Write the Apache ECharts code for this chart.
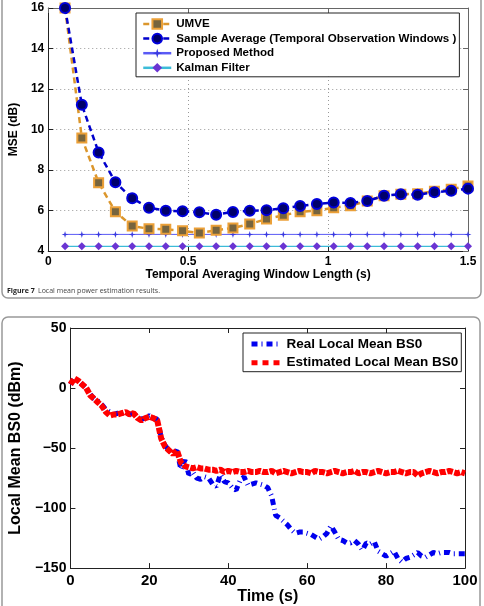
<!DOCTYPE html>
<html>
<head>
<meta charset="utf-8">
<script src="https://cdn.jsdelivr.net/npm/echarts@6/dist/echarts.min.js"></script>
<style>html,body{margin:0;padding:0;background:#fff;}#c{width:484px;height:606px;}</style>
</head>
<body>
<div id="c"></div>
<script>
// ---- Top chart data ----
const windowLength = [0.06,0.12,0.18,0.24,0.30,0.36,0.42,0.48,0.54,0.60,0.66,0.72,0.78,0.84,0.90,0.96,1.02,1.08,1.14,1.20,1.26,1.32,1.38,1.44,1.50];
const umve = [16,9.58,7.37,5.94,5.23,5.10,5.07,5.00,4.89,5.02,5.14,5.33,5.58,5.76,5.94,5.99,6.14,6.24,6.47,6.73,6.80,6.83,6.95,7.05,7.21];
const sampleAverage = [16,11.22,8.87,7.39,6.60,6.14,5.99,5.96,5.91,5.79,5.93,5.99,6.01,6.11,6.22,6.32,6.40,6.37,6.47,6.73,6.80,6.78,6.90,6.98,7.08];
const proposedMethod = [4.82,4.82,4.82,4.82,4.82,4.82,4.82,4.82,4.82,4.82,4.82,4.82,4.82,4.82,4.82,4.82,4.82,4.82,4.82,4.82,4.82,4.82,4.82,4.82,4.82];
const kalmanFilter = [4.23,4.23,4.23,4.23,4.23,4.23,4.23,4.23,4.23,4.23,4.23,4.23,4.23,4.23,4.23,4.23,4.23,4.23,4.23,4.23,4.23,4.23,4.23,4.23,4.23];
const topNames = ['UMVE','Sample Average (Temporal Observation Windows )','Proposed Method','Kalman Filter'];

// ---- Bottom chart data ----
const timeSec = [0,1,2,3,4,5,6,7,8,9,10,11,12,13,14,15,16,17,18,19,20,21,22,23,24,25,26,27,28,29,30,31,32,33,34,35,36,37,38,39,40,41,42,43,44,45,46,47,48,49,50,51,52,53,54,55,56,57,58,59,60,61,62,63,64,65,66,67,68,69,70,71,72,73,74,75,76,77,78,79,80,81,82,83,84,85,86,87,88,89,90,91,92,93,94,95,96,97,98,99,100];
const realLocalMean = [3,8,6,3,0,-5,-9,-11,-14,-18,
  -20,-22,-21,-21,-20,-22,-21,-24,-26,-25,
  -23,-25,-26,-41,-48,-52,-55,-52,-68,-60,
  -72,-70,-75,-76,-74,-75,-80,-82,-72,-78,
  -79,-83,-85,-77,-74,-81,-80,-79,-80,-81,
  -83,-90,-106,-108,-111,-114,-118,-121,-120,-120,
  -121,-122,-124,-126,-124,-121,-115,-120,-126,-127,
  -129,-129,-127,-130,-135,-129,-130,-128,-136,-138,
  -140,-138,-136,-142,-145,-142,-141,-139,-137,-140,
  -141,-139,-137,-138,-137,-137,-137,-138,-138,-138,
  -138];
const estimatedLocalMean = [3,8,6,3,0,-6,-9,-12,-15,-20,
  -23,-22,-22,-21,-20,-22,-21,-25,-27,-25,
  -24,-25,-27,-42,-49,-52,-55,-52,-62,-65,
  -66,-67,-66,-67,-67,-68,-68,-69,-68,-70,
  -69,-70,-69,-70,-70,-69,-70,-70,-69,-70,
  -70,-69,-71,-70,-69,-70,-71,-70,-69,-70,
  -70,-71,-69,-70,-70,-71,-70,-69,-70,-71,
  -70,-70,-69,-71,-70,-70,-71,-70,-69,-70,
  -71,-70,-70,-69,-70,-71,-70,-70,-73,-71,
  -70,-69,-70,-71,-70,-70,-69,-70,-71,-70,
  -71];
const bottomNames = ['Real Local Mean BS0','Estimated Local Mean BS0'];

const FONT = '"Liberation Sans", Arial, sans-serif';
const pair = (xs, ys) => xs.map((x, i) => [x, ys[i]]);
const minus = v => String(v).replace('-', '\u2212');

const chart = echarts.init(document.getElementById('c'), null, {renderer: 'canvas'});

const labelBold = (size, extra) => Object.assign({color:'#000', fontWeight:'bold', fontSize:size, fontFamily:FONT}, extra||{});

const option = {
  animation: false,
  backgroundColor: '#fff',
  textStyle: {fontFamily: FONT},
  grid: [
    {left:39, top:8, width:429, height:243},
    {left:57, top:328, width:408, height:246}
  ],
  xAxis: [
    {gridIndex:0, type:'value', min:0, max:1.5, interval:0.5,
     axisLine:{onZero:false, lineStyle:{color:'#222', width:1}},
     axisTick:{inside:true, length:5, lineStyle:{color:'#222'}},
     axisLabel:labelBold(12, {margin:5}),
     splitLine:{show:true, lineStyle:{type:[1,3], color:'#999'}},
     name:'Temporal Averaging Window Length (s)', nameLocation:'middle', nameGap:16,
     nameTextStyle:labelBold(12)},
    {gridIndex:0, type:'value', position:'top', min:0, max:1.5, interval:0.5,
     axisLine:{onZero:false, lineStyle:{color:'#666', width:1}},
     axisTick:{inside:true, length:5, lineStyle:{color:'#666'}},
     axisLabel:{show:false}, splitLine:{show:false}},
    {gridIndex:1, type:'value', min:0, max:100, interval:20,
     axisLine:{onZero:false, lineStyle:{color:'#222', width:1}},
     axisTick:{inside:true, length:5, lineStyle:{color:'#222'}},
     axisLabel:labelBold(15, {margin:5}),
     splitLine:{show:false},
     name:'Time (s)', nameLocation:'middle', nameGap:16,
     nameTextStyle:labelBold(16)},
    {gridIndex:1, type:'value', position:'top', min:0, max:100, interval:20,
     axisLine:{onZero:false, lineStyle:{color:'#222', width:1}},
     axisTick:{inside:true, length:5, lineStyle:{color:'#222'}},
     axisLabel:{show:false}, splitLine:{show:false}}
  ],
  yAxis: [
    {gridIndex:0, type:'value', min:4, max:16, interval:2,
     axisLine:{show:true, onZero:false, lineStyle:{color:'#222', width:1}},
     axisTick:{show:true, inside:true, length:5, lineStyle:{color:'#222'}},
     axisLabel:labelBold(12, {margin:4}),
     splitLine:{show:true, lineStyle:{type:[1,3], color:'#999'}},
     name:'MSE (dB)', nameLocation:'middle', nameGap:21,
     nameTextStyle:labelBold(12)},
    {gridIndex:0, type:'value', position:'right', min:4, max:16, interval:2,
     axisLine:{show:true, onZero:false, lineStyle:{color:'#666', width:1}},
     axisTick:{show:true, inside:true, length:5, lineStyle:{color:'#666'}},
     axisLabel:{show:false}, splitLine:{show:false}},
    {gridIndex:1, type:'value', min:-150, max:50, interval:50,
     axisLine:{show:true, onZero:false, lineStyle:{color:'#222', width:1}},
     axisTick:{show:true, inside:true, length:5, lineStyle:{color:'#222'}},
     axisLabel:labelBold(14, {margin:4, formatter:minus}),
     splitLine:{show:false},
     name:'Local Mean BS0 (dBm)', nameLocation:'middle', nameGap:34,
     nameTextStyle:labelBold(16)},
    {gridIndex:1, type:'value', position:'right', min:-150, max:50, interval:50,
     axisLine:{show:true, onZero:false, lineStyle:{color:'#222', width:1}},
     axisTick:{show:true, inside:true, length:5, lineStyle:{color:'#222'}},
     axisLabel:{show:false}, splitLine:{show:false}}
  ],
  legend: [
    {data:topNames, orient:'vertical', left:136, top:13,
     itemWidth:28, itemHeight:12, itemGap:2.6, padding:[5,3,3,6],
     borderColor:'#222', borderWidth:1, backgroundColor:'#fff',
     lineStyle:{width:2.5},
     textStyle:labelBold(11.6)},
    {data:bottomNames, orient:'vertical', left:243, top:333,
     itemWidth:30, itemHeight:14, itemGap:4.7, padding:[4,3,2,6],
     borderColor:'#222', borderWidth:1, backgroundColor:'#fff',
     itemStyle:{opacity:0},
     lineStyle:{width:5},
     textStyle:labelBold(13.5)}
  ],
  graphic: [
    {type:'rect', shape:{x:2, y:-10, width:479, height:308, r:6}, style:{fill:'none', stroke:'#999', lineWidth:1.5}, silent:true},
    {type:'rect', shape:{x:2, y:317, width:478, height:300, r:6}, style:{fill:'none', stroke:'#999', lineWidth:1.5}, silent:true},
    {type:'text', x:7, y:291, style:{
      text:'{b|Figure 7} {n|Local mean power estimation results.}',
      verticalAlign:'middle',
      rich:{b:{fontWeight:'bold', fontSize:7, fill:'#222', fontFamily:'"Open Sans", "DejaVu Sans", sans-serif'},
            n:{fontSize:7, fill:'#444', fontFamily:'"Open Sans", "DejaVu Sans", sans-serif'}}
    }, silent:true}
  ],
  series: [
    {name:'UMVE', type:'line', xAxisIndex:0, yAxisIndex:0, data:pair(windowLength, umve),
     clip:false, symbol:'rect', symbolSize:9, z:3,
     lineStyle:{color:'#DB962C', width:2.5, type:[6,4]},
     itemStyle:{color:'#76643E', borderColor:'#EBA038', borderWidth:2}},
    {name:'Sample Average (Temporal Observation Windows )', type:'line', xAxisIndex:0, yAxisIndex:0, data:pair(windowLength, sampleAverage),
     clip:false, symbol:'circle', symbolSize:10, z:4,
     lineStyle:{color:'#0000CC', width:2.5, type:[6,4]},
     itemStyle:{color:'#00006A', borderColor:'#0000DD', borderWidth:2}},
    {name:'Proposed Method', type:'line', xAxisIndex:0, yAxisIndex:0, data:pair(windowLength, proposedMethod),
     symbol:'path://M0,-1 L0.22,-0.22 L1,0 L0.22,0.22 L0,1 L-0.22,0.22 L-1,0 L-0.22,-0.22 Z', symbolSize:7, z:2,
     lineStyle:{color:'#5A5AF5', width:1},
     itemStyle:{color:'#3A3AE0'}},
    {name:'Kalman Filter', type:'line', xAxisIndex:0, yAxisIndex:0, data:pair(windowLength, kalmanFilter),
     symbol:'diamond', symbolSize:8, z:2,
     lineStyle:{color:'#3CBCD8', width:1.2},
     itemStyle:{color:'#6A34D2'}},

    {name:'Real Local Mean BS0', type:'line', xAxisIndex:2, yAxisIndex:2, data:pair(timeSec, realLocalMean),
     showSymbol:false, symbol:'none', z:2,
     lineStyle:{color:'#0000EE', width:5, type:[6,4,1,4]},
     itemStyle:{color:'#0000EE'}},
    {name:'estimated-plot', type:'line', xAxisIndex:2, yAxisIndex:2, data:pair(timeSec, estimatedLocalMean),
     showSymbol:false, symbol:'none', z:3,
     lineStyle:{color:'#FF0000', width:6, type:[6,1.5]},
     itemStyle:{color:'#FF0000'}},
    {name:'Estimated Local Mean BS0', type:'line', xAxisIndex:2, yAxisIndex:2, data:[],
     showSymbol:false, symbol:'none',
     lineStyle:{color:'#FF0000', width:6, type:[6,5]},
     itemStyle:{color:'#FF0000'}}
  ]
};
chart.setOption(option);
</script>
</body>
</html>
